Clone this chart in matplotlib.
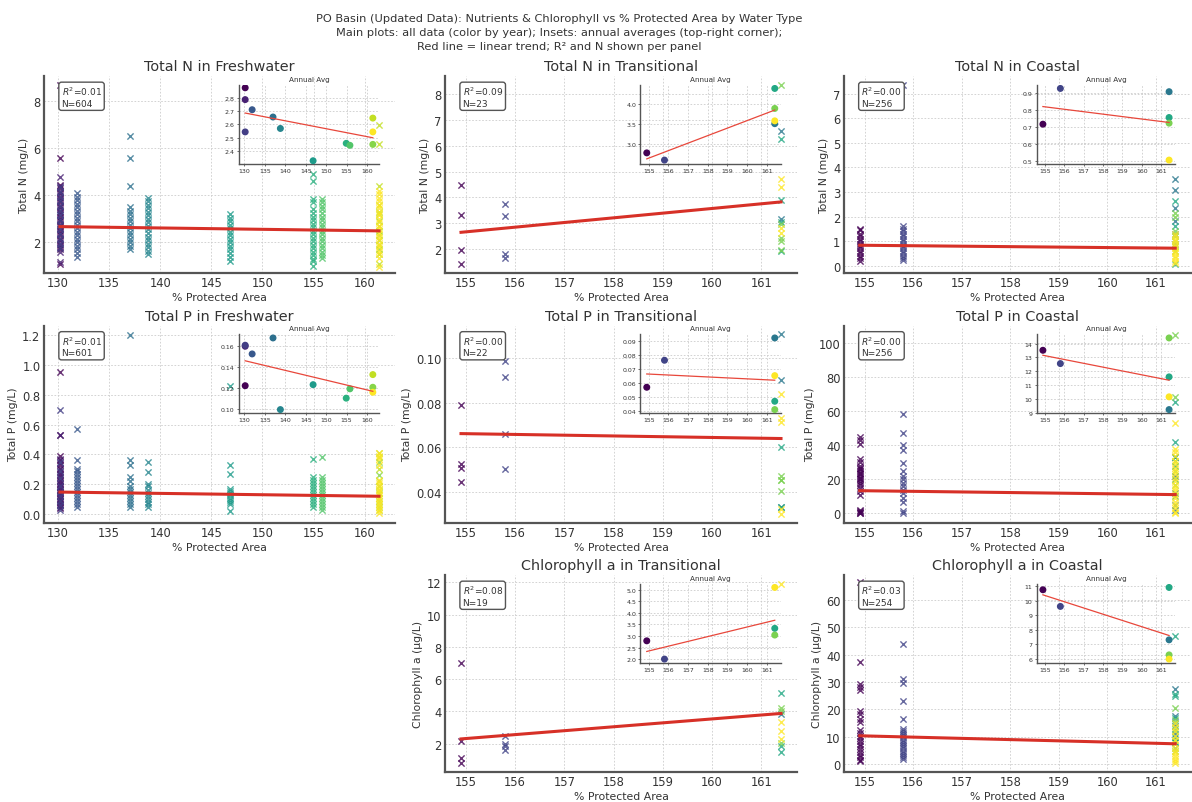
import matplotlib.pyplot as plt
import numpy as np
from matplotlib.ticker import MultipleLocator
from matplotlib.colors import Normalize

plt.rcParams.update({
    'font.family': 'DejaVu Sans',
    'text.color': '#333333',
    'axes.labelcolor': '#333333',
    'xtick.color': '#333333',
    'ytick.color': '#333333',
    'axes.edgecolor': '#555555',
})

# ---------------- Freshwater (years 2010-2021) ----------------
FW_years = [2010, 2011, 2012, 2013, 2014, 2015, 2016, 2017, 2018, 2019, 2020, 2021]
FW_x = [130.2, 130.2, 130.2, 131.9, 137.0, 138.8, 146.8, 154.9, 155.8, 161.4, 161.4, 161.4]

FN_vals = [
    [8.69, 5.6, 4.45, 4.3, 4.1, 3.9, 3.7, 3.5, 3.3, 3.1, 2.9, 2.7, 2.5, 2.3, 2.1, 1.9, 1.7, 1.08],
    [4.8, 4.4, 4.2, 4.0, 3.8, 3.6, 3.4, 3.2, 3.0, 2.8, 2.6, 2.4, 2.2, 2.0, 1.8, 1.6, 1.15],
    [4.35, 4.15, 3.95, 3.75, 3.55, 3.35, 3.15, 2.95, 2.75, 2.55, 2.35, 2.15, 1.95, 1.75],
    [4.1, 3.95, 3.8, 3.65, 3.5, 3.35, 3.2, 3.05, 2.9, 2.75, 2.6, 2.45, 2.3, 2.15, 2.0, 1.85, 1.7, 1.55, 1.4],
    [6.5, 5.6, 4.4, 3.5, 3.35, 3.2, 3.05, 2.9, 2.75, 2.6, 2.45, 2.3, 2.15, 2.0, 1.85, 1.72],
    [3.9, 3.75, 3.6, 3.45, 3.3, 3.15, 3.0, 2.85, 2.7, 2.55, 2.4, 2.25, 2.1, 1.95, 1.8, 1.65, 1.5],
    [3.2, 3.05, 2.9, 2.75, 2.6, 2.45, 2.3, 2.15, 2.0, 1.85, 1.7, 1.55, 1.4, 1.2],
    [4.9, 4.6, 3.85, 3.7, 3.4, 3.25, 3.1, 2.95, 2.8, 2.65, 2.5, 2.35, 2.2, 2.05, 1.9, 1.75, 1.6, 1.45, 1.3, 1.2, 1.0],
    [3.85, 3.7, 3.55, 3.4, 3.25, 3.1, 2.95, 2.8, 2.65, 2.5, 2.35, 2.2, 2.05, 1.9, 1.75, 1.6, 1.45, 1.32],
    [3.3, 2.9, 2.5, 2.1, 1.7, 1.5],
    [7.0, 6.2, 4.4, 3.6, 3.2, 2.7, 2.3, 1.9, 1.1],
    [4.2, 4.05, 3.9, 3.75, 3.6, 3.45, 3.3, 3.15, 3.0, 2.85, 2.7, 2.55, 2.4, 2.25, 2.1, 1.95, 1.8,
     1.65, 1.5, 1.35, 0.97],
]
FN_avg = [2.876, 2.787, 2.544, 2.711, 2.656, 2.57, 2.327, 2.458, 2.443, 2.45, 2.648, 2.544]
FN_trend = [2.67, 2.49]
FN_avg_trend = [2.686, 2.50]
FN_r2, FN_n = 0.01, 604
FN_ylim = [0.70, 9.07]
FN_avg_ylim = [2.305, 2.898]

FP_vals = [
    [0.95, 0.53, 0.39, 0.36, 0.33, 0.30, 0.27, 0.25, 0.22, 0.20, 0.18, 0.16, 0.14, 0.12, 0.10, 0.08, 0.06, 0.04],
    [0.53, 0.37, 0.34, 0.31, 0.28, 0.26, 0.23, 0.21, 0.19, 0.17, 0.15, 0.13, 0.11, 0.09, 0.07, 0.05],
    [0.70, 0.35, 0.29, 0.24, 0.19, 0.15, 0.12, 0.09, 0.06, 0.026],
    [0.57, 0.36, 0.30, 0.29, 0.27, 0.25, 0.23, 0.21, 0.19, 0.17, 0.15, 0.13, 0.11, 0.09, 0.07, 0.048],
    [1.2, 0.36, 0.33, 0.25, 0.22, 0.19, 0.17, 0.15, 0.13, 0.11, 0.09, 0.07, 0.048],
    [0.35, 0.28, 0.20, 0.185, 0.16, 0.14, 0.12, 0.10, 0.08, 0.065, 0.048],
    [0.86, 0.33, 0.27, 0.17, 0.155, 0.14, 0.125, 0.11, 0.095, 0.08, 0.07, 0.02],
    [0.37, 0.25, 0.23, 0.21, 0.19, 0.17, 0.15, 0.13, 0.11, 0.09, 0.07, 0.048],
    [0.38, 0.25, 0.23, 0.21, 0.19, 0.17, 0.15, 0.13, 0.11, 0.09, 0.07, 0.05, 0.026],
    [0.35, 0.26, 0.19, 0.14, 0.09, 0.05],
    [0.41, 0.38, 0.30, 0.22, 0.16, 0.11, 0.07, 0.03],
    [0.41, 0.39, 0.37, 0.33, 0.23, 0.21, 0.19, 0.17, 0.15, 0.13, 0.11, 0.09, 0.07, 0.05, 0.03, 0.004],
]
FP_avg = [0.122, 0.160, 0.161, 0.1526, 0.168, 0.099, 0.123, 0.110, 0.119, 0.1205, 0.1327, 0.1157]
FP_trend = [0.147, 0.119]
FP_avg_trend = [0.146, 0.1166]
FP_r2, FP_n = 0.01, 601
FP_ylim = [-0.057, 1.264]

# ---------------- Transitional / Coastal (years 2017-2022) ----------------
TC_years = [2017, 2018, 2019, 2020, 2021, 2022]
TC_x = [154.9, 155.8, 161.4, 161.4, 161.4, 161.4]

TN_vals = [
    [4.48, 3.33, 1.96, 1.41],
    [3.75, 3.28, 1.79, 1.64],
    [6.56, 3.15],
    [6.25, 3.88, 3.05, 1.93],
    [8.36, 2.98, 2.41, 2.31, 1.96],
    [4.71, 4.39, 2.79, 2.6],
]
TN_avg = [2.78, 2.60, 3.51, 4.39, 3.89, 3.58]
TN_trend = [2.64, 3.82]
TN_avg_trend = [2.63, 3.85]
TN_r2, TN_n = 0.09, 23
TN_ylim = [1.06, 8.71]

CN_vals = [
    [1.5, 1.45, 1.3, 1.2, 1.1, 1.0, 0.9, 0.8, 0.7, 0.6, 0.5, 0.4, 0.3, 0.2],
    [7.37, 1.6, 1.5, 1.4, 1.3, 1.2, 1.1, 1.0, 0.9, 0.8, 0.7, 0.6, 0.5, 0.4, 0.3, 0.23],
    [3.52, 3.07, 2.35, 1.81, 1.3, 0.9],
    [2.64, 1.6, 1.2, 0.8, 0.07],
    [2.15, 2.0, 1.4, 1.0, 0.6],
    [1.3, 1.2, 1.1, 1.0, 0.9, 0.8, 0.7, 0.6, 0.5, 0.4, 0.3, 0.2, 0.12],
]
CN_avg = [0.716, 0.925, 0.906, 0.755, 0.722, 0.506]
CN_trend = [0.83, 0.71]
CN_avg_trend = [0.819, 0.726]
CN_r2, CN_n = 0.00, 256
CN_ylim = [-0.30, 7.72]

TP_vals = [
    [0.0792, 0.0526, 0.0508, 0.0447],
    [0.0989, 0.0916, 0.0659, 0.0504],
    [0.1108, 0.0904, 0.0335],
    [0.060, 0.0333],
    [0.0474, 0.0453, 0.0403, 0.0455],
    [0.0841, 0.0733, 0.0714, 0.0326, 0.0304],
]
TP_avg = [0.0568, 0.0763, 0.0924, 0.0467, 0.0407, 0.0652]
TP_trend = [0.0662, 0.0640]
TP_avg_trend = [0.0664, 0.0619]
TP_r2, TP_n = 0.00, 22
TP_ylim = [0.0264, 0.1146]

CP_vals = [
    [45, 43, 41, 32, 30, 28, 27, 26, 25, 24, 23, 22, 21, 20, 19, 18, 17, 15, 13, 11, 2, 1.5, 1, 0.5, 0.2],
    [58.6, 47.4, 40.2, 37.3, 29.5, 24.7, 22, 20, 18, 16, 14, 12, 9, 7, 1.5, 0.5],
    [33, 22, 12, 5, 2],
    [65.5, 42, 33, 28, 20, 10],
    [105.2, 68.4, 31, 25, 17],
    [53.2, 38, 36, 34, 31, 29, 27, 25, 23, 21, 19, 17, 15, 13, 11, 9, 7, 5, 3, 1, 0],
]
CP_avg = [13.52, 12.56, 9.24, 11.6, 14.41, 10.16]
CP_trend = [13.4, 11.1]
CP_avg_trend = [13.16, 11.36]
CP_r2, CP_n = 0.00, 256
CP_ylim = [-5.3, 110.5]

TCh_vals = [
    [7.0, 2.2, 1.11, 0.8],
    [2.51, 1.98, 1.85, 1.63],
    [3.87],
    [5.12, 1.85, 1.48],
    [4.2, 4.05, 2.04],
    [11.9, 3.37, 2.8, 2.3],
]
TCh_avg = [2.79, 2.0, np.nan, 3.33, 3.04, 5.10]
TCh_trend = [2.30, 3.88]
TCh_avg_trend = [2.33, 3.68]
TCh_r2, TCh_n = 0.08, 19
TCh_ylim = [0.25, 12.46]

CCh_vals = [
    [66.3, 37.4, 29.2, 28, 27.1, 19.4, 18.4, 16.6, 15.4, 12.6, 11.5, 10.5, 9.5, 8.5, 7.5, 6.5, 5.5, 4.5,
     3.5, 2.5, 1.5, 1.2],
    [43.7, 31.2, 29.8, 22.9, 16.4, 13, 12.2, 11.4, 10.6, 9.8, 9, 8.2, 7.4, 6.6, 5.8, 5, 4.2, 3.4, 2.6, 2],
    [27.3, 17.5, 14, 11, 8],
    [46.9, 25.7, 24.8, 17, 15, 12, 10, 8, 6],
    [20.5, 16, 13, 9, 5],
    [15, 13.5, 12, 10.5, 9, 7.5, 6, 5, 4, 3, 2, 1.2, 0.5],
]
CCh_avg = [10.77, 9.62, 7.31, 10.93, 6.27, 5.98]
CCh_trend = [10.4, 7.48]
CCh_avg_trend = [10.42, 7.61]
CCh_r2, CCh_n = 0.03, 254
CCh_ylim = [-2.8, 69.0]

# ---------------- layout (pixels) ----------------
W, H = 1192, 803
col_left = [44, 445, 844]
col_width = [351, 352, 347]
row_top = [77, 326.5, 576]
ax_h = 197

fig = plt.figure(figsize=(W / 100, H / 100), dpi=100)
cmap = plt.cm.viridis


def style_axes(ax, lw):
    for s in ['top', 'right']:
        ax.spines[s].set_visible(False)
    for s in ['left', 'bottom']:
        ax.spines[s].set_linewidth(lw)
        ax.spines[s].set_color('#555555')
    ax.grid(True, linestyle=(0, (2, 2)), linewidth=0.6, color='#cccccc')
    ax.set_axisbelow(True)


def panel(c, r, title, ylabel, xs, years, vals, trend, ylim, ystep, xstep,
          avg, avg_trend, avg_ystep, r2, n, avg_ylim=None):
    rect = [col_left[c] / W, 1 - (row_top[r] + ax_h) / H, col_width[c] / W, ax_h / H]
    ax = fig.add_axes(rect)
    style_axes(ax, 1.6)
    norm = Normalize(min(years), max(years))

    for x, yr, v in zip(xs, years, vals):
        ax.scatter([x] * len(v), v, marker='x', s=20, linewidths=1.0,
                   color=cmap(norm(yr)), alpha=0.8, zorder=3)
    ax.plot([min(xs), max(xs)], trend, color='#d73027', lw=2.2, zorder=4)

    ax.set_ylim(ylim)
    ax.margins(x=0.05)
    ax.yaxis.set_major_locator(MultipleLocator(ystep))
    ax.xaxis.set_major_locator(MultipleLocator(xstep))
    ax.tick_params(labelsize=8.3, length=0, pad=2.5)
    ax.set_title(title, fontsize=10.4, pad=4)
    ax.set_xlabel('% Protected Area', fontsize=7.8, labelpad=2)
    ax.set_ylabel(ylabel, fontsize=7.8, labelpad=3)

    ax.text(0.05, 0.955, f'$R^2$={r2:.2f}\nN={n}', transform=ax.transAxes,
            ha='left', va='top', fontsize=6.5, zorder=6,
            bbox=dict(boxstyle='round,pad=0.3', fc='white', ec='#555555', lw=1))

    # inset: annual averages
    ins = ax.inset_axes([0.555, 0.555, 0.40, 0.40])
    ins.set_facecolor('none')
    style_axes(ins, 1.0)
    ins.scatter(xs, avg, c=[cmap(norm(y)) for y in years], s=16, zorder=3)
    ins.plot([min(xs), max(xs)], avg_trend, color='#e8473b', lw=0.9, zorder=4)
    if avg_ylim is not None:
        ins.set_ylim(avg_ylim)
    ins.yaxis.set_major_locator(MultipleLocator(avg_ystep))
    ins.xaxis.set_major_locator(MultipleLocator(xstep))
    ins.tick_params(labelsize=4.5, length=1.5, width=0.6, pad=1.5, color='#555555')
    ins.set_title('Annual Avg', fontsize=5.2, pad=3)
    return ax


panel(0, 0, 'Total N in Freshwater', 'Total N (mg/L)', FW_x, FW_years, FN_vals, FN_trend,
      FN_ylim, 2, 5, FN_avg, FN_avg_trend, 0.1, FN_r2, FN_n, FN_avg_ylim)
panel(1, 0, 'Total N in Transitional', 'Total N (mg/L)', TC_x, TC_years, TN_vals, TN_trend,
      TN_ylim, 1, 1, TN_avg, TN_avg_trend, 0.5, TN_r2, TN_n)
panel(2, 0, 'Total N in Coastal', 'Total N (mg/L)', TC_x, TC_years, CN_vals, CN_trend,
      CN_ylim, 1, 1, CN_avg, CN_avg_trend, 0.1, CN_r2, CN_n)
panel(0, 1, 'Total P in Freshwater', 'Total P (mg/L)', FW_x, FW_years, FP_vals, FP_trend,
      FP_ylim, 0.2, 5, FP_avg, FP_avg_trend, 0.02, FP_r2, FP_n)
panel(1, 1, 'Total P in Transitional', 'Total P (mg/L)', TC_x, TC_years, TP_vals, TP_trend,
      TP_ylim, 0.02, 1, TP_avg, TP_avg_trend, 0.01, TP_r2, TP_n)
panel(2, 1, 'Total P in Coastal', 'Total P (mg/L)', TC_x, TC_years, CP_vals, CP_trend,
      CP_ylim, 20, 1, CP_avg, CP_avg_trend, 1, CP_r2, CP_n)
panel(1, 2, 'Chlorophyll a in Transitional', 'Chlorophyll a (µg/L)', TC_x, TC_years, TCh_vals,
      TCh_trend, TCh_ylim, 2, 1, TCh_avg, TCh_avg_trend, 0.5, TCh_r2, TCh_n)
panel(2, 2, 'Chlorophyll a in Coastal', 'Chlorophyll a (µg/L)', TC_x, TC_years, CCh_vals,
      CCh_trend, CCh_ylim, 10, 1, CCh_avg, CCh_avg_trend, 1, CCh_r2, CCh_n)

fig.text(559 / W, 1 - 33 / H,
         'PO Basin (Updated Data): Nutrients & Chlorophyll vs % Protected Area by Water Type\n'
         'Main plots: all data (color by year); Insets: annual averages (top-right corner);\n'
         'Red line = linear trend; R² and N shown per panel',
         ha='center', va='center', fontsize=8.2, linespacing=1.45)

fig.savefig('out.png', dpi=100)
